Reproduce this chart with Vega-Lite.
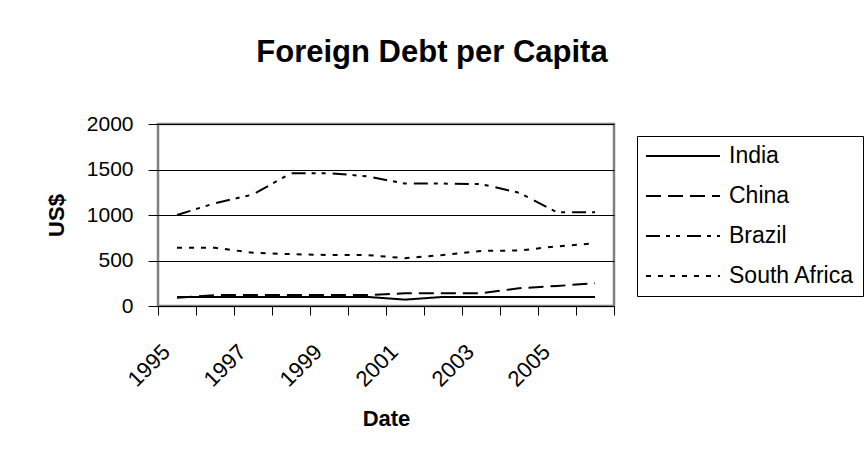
{
  "$schema": "https://vega.github.io/schema/vega-lite/v6.json",
  "autosize": {"type": "none"},
  "width": 456,
  "height": 182,
  "padding": {"left": 158, "top": 124, "right": 250, "bottom": 154},
  "background": "white",
  "title": {
    "text": "Foreign Debt per Capita",
    "font": "Liberation Sans",
    "fontSize": 31,
    "fontWeight": "bold",
    "color": "black",
    "anchor": "middle",
    "dx": 46,
    "offset": 44
  },
  "data": {
    "values": [
      {"Year": 1995, "Country": "India", "Value": 100},
      {"Year": 1996, "Country": "India", "Value": 100},
      {"Year": 1997, "Country": "India", "Value": 100},
      {"Year": 1998, "Country": "India", "Value": 100},
      {"Year": 1999, "Country": "India", "Value": 100},
      {"Year": 2000, "Country": "India", "Value": 100},
      {"Year": 2001, "Country": "India", "Value": 70},
      {"Year": 2002, "Country": "India", "Value": 100},
      {"Year": 2003, "Country": "India", "Value": 100},
      {"Year": 2004, "Country": "India", "Value": 100},
      {"Year": 2005, "Country": "India", "Value": 100},
      {"Year": 2006, "Country": "India", "Value": 100},
      {"Year": 1995, "Country": "China", "Value": 90},
      {"Year": 1996, "Country": "China", "Value": 120},
      {"Year": 1997, "Country": "China", "Value": 120},
      {"Year": 1998, "Country": "China", "Value": 120},
      {"Year": 1999, "Country": "China", "Value": 120},
      {"Year": 2000, "Country": "China", "Value": 120},
      {"Year": 2001, "Country": "China", "Value": 140},
      {"Year": 2002, "Country": "China", "Value": 140},
      {"Year": 2003, "Country": "China", "Value": 140},
      {"Year": 2004, "Country": "China", "Value": 195},
      {"Year": 2005, "Country": "China", "Value": 220},
      {"Year": 2006, "Country": "China", "Value": 250},
      {"Year": 1995, "Country": "Brazil", "Value": 1000},
      {"Year": 1996, "Country": "Brazil", "Value": 1130},
      {"Year": 1997, "Country": "Brazil", "Value": 1225},
      {"Year": 1998, "Country": "Brazil", "Value": 1460},
      {"Year": 1999, "Country": "Brazil", "Value": 1460},
      {"Year": 2000, "Country": "Brazil", "Value": 1425},
      {"Year": 2001, "Country": "Brazil", "Value": 1345},
      {"Year": 2002, "Country": "Brazil", "Value": 1345},
      {"Year": 2003, "Country": "Brazil", "Value": 1340},
      {"Year": 2004, "Country": "Brazil", "Value": 1245},
      {"Year": 2005, "Country": "Brazil", "Value": 1030},
      {"Year": 2006, "Country": "Brazil", "Value": 1030},
      {"Year": 1995, "Country": "South Africa", "Value": 640},
      {"Year": 1996, "Country": "South Africa", "Value": 640},
      {"Year": 1997, "Country": "South Africa", "Value": 585},
      {"Year": 1998, "Country": "South Africa", "Value": 570},
      {"Year": 1999, "Country": "South Africa", "Value": 560},
      {"Year": 2000, "Country": "South Africa", "Value": 560},
      {"Year": 2001, "Country": "South Africa", "Value": 525},
      {"Year": 2002, "Country": "South Africa", "Value": 560},
      {"Year": 2003, "Country": "South Africa", "Value": 605},
      {"Year": 2004, "Country": "South Africa", "Value": 610},
      {"Year": 2005, "Country": "South Africa", "Value": 655},
      {"Year": 2006, "Country": "South Africa", "Value": 690}
    ]
  },
  "mark": {"type": "line", "strokeWidth": 2, "color": "black", "strokeCap": "butt"},
  "encoding": {
    "x": {
      "field": "Year",
      "type": "quantitative",
      "title": "Date",
      "scale": {"domain": [1994.5, 2006.5], "nice": false, "zero": false},
      "axis": {
        "values": [1994.5, 1995.5, 1996.5, 1997.5, 1998.5, 1999.5, 2000.5, 2001.5, 2002.5, 2003.5, 2004.5, 2005.5, 2006.5],
        "labelExpr": "((datum.value + 0.5) % 2 == 1 && datum.value < 2006) ? '' + (datum.value + 0.5) : ''",
        "labelAngle": -45,
        "labelAlign": "right",
        "labelBaseline": "middle",
        "labelOffset": 8,
        "labelPadding": 33,
        "labelFontSize": 22,
        "labelFont": "Liberation Sans",
        "labelColor": "black",
        "labelOverlap": false,
        "labelBound": false,
        "labelFlush": false,
        "tickSize": 9,
        "tickColor": "black",
        "tickWidth": 1,
        "domainColor": "black",
        "domainWidth": 1,
        "grid": false,
        "titleFont": "Liberation Sans",
        "titleFontSize": 22,
        "titleFontWeight": "bold",
        "titleColor": "black",
        "titlePadding": 18
      }
    },
    "y": {
      "field": "Value",
      "type": "quantitative",
      "title": "US$",
      "scale": {"domain": [0, 2000], "nice": false},
      "axis": {
        "values": [0, 500, 1000, 1500, 2000],
        "format": "d",
        "labelFontSize": 21,
        "labelFont": "Liberation Sans",
        "labelColor": "black",
        "labelPadding": 15,
        "tickSize": 10,
        "tickColor": "black",
        "tickWidth": 1,
        "domain": false,
        "grid": true,
        "gridColor": "black",
        "gridWidth": 1,
        "gridOpacity": 1,
        "titleFont": "Liberation Sans",
        "titleFontSize": 22,
        "titleFontWeight": "bold",
        "titleColor": "black",
        "titlePadding": 18
      }
    },
    "strokeDash": {
      "field": "Country",
      "type": "nominal",
      "scale": {
        "domain": ["India", "China", "Brazil", "South Africa"],
        "range": [[1, 0], [15, 7], [14, 6, 4, 6, 4, 7], [5, 7]]
      },
      "legend": {
        "title": null,
        "orient": "none",
        "legendX": 479,
        "legendY": 12,
        "symbolType": "stroke",
        "symbolSize": 5476,
        "symbolStrokeWidth": 2,
        "symbolStrokeColor": "black",
        "labelFont": "Liberation Sans",
        "labelFontSize": 23,
        "labelColor": "black",
        "labelOffset": 8,
        "labelLimit": 300,
        "strokeColor": "black",
        "fillColor": "white",
        "padding": 8,
        "rowPadding": 16,
        "clipHeight": 24
      }
    }
  },
  "config": {
    "view": {"stroke": "#808080", "strokeWidth": 2.5}
  }
}
